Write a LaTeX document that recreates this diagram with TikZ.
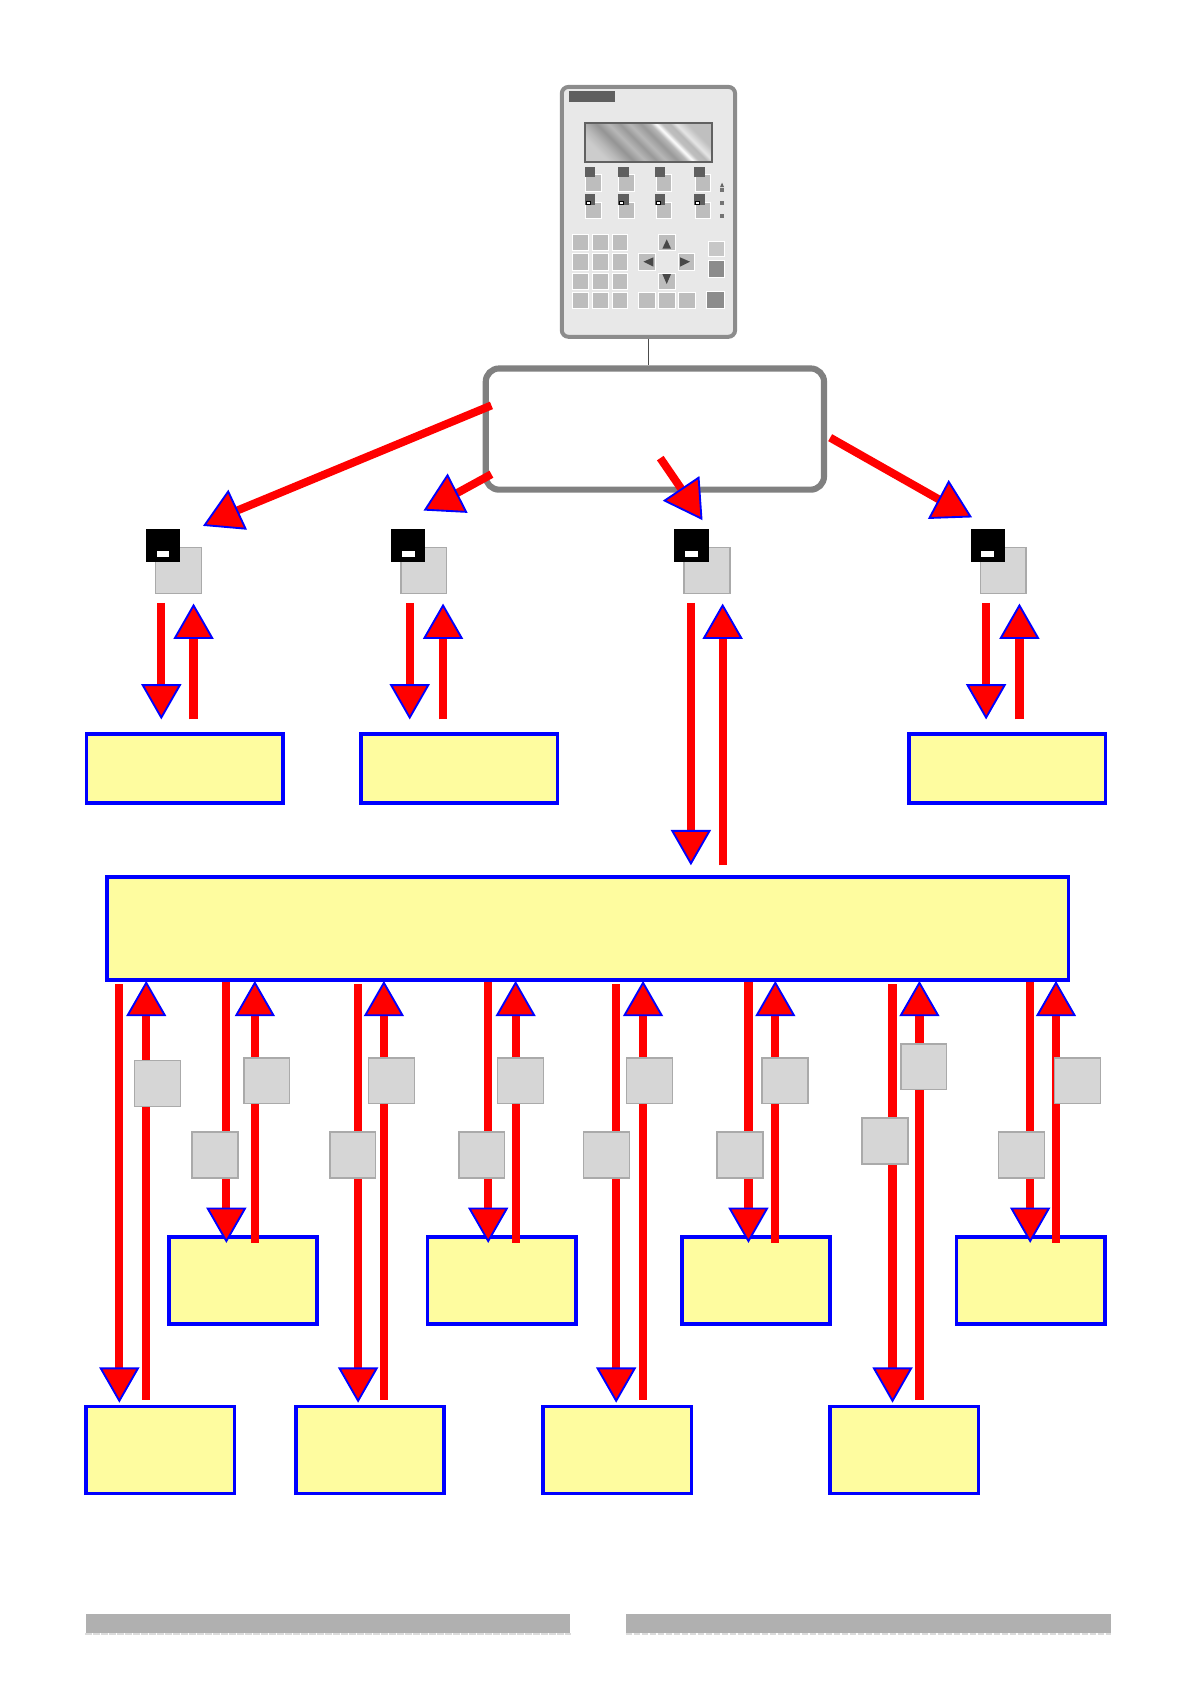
\documentclass[tikz,border=0pt]{standalone}
\usetikzlibrary{arrows.meta,shapes.geometric}
\definecolor{paleyellow}{HTML}{FEFC9F}
\definecolor{relaygray}{HTML}{D6D6D6}
\definecolor{edgegray}{HTML}{AAAAAA}
\definecolor{capgray}{HTML}{BDBDBD}
\definecolor{darkcap}{HTML}{5F5F5F}
\pgfdeclarehorizontalshading{silverglass}{100bp}{rgb(0bp)=(.8,.8,.8); rgb(25bp)=(.8,.8,.8); rgb(30bp)=(.72,.72,.72); rgb(36bp)=(.58,.58,.58); rgb(41bp)=(.72,.72,.72); rgb(46bp)=(.6,.6,.6); rgb(50bp)=(.72,.72,.72); rgb(55bp)=(.6,.6,.6); rgb(59bp)=(.72,.72,.72); rgb(61.5bp)=(1,1,1); rgb(64bp)=(.75,.75,.75); rgb(67.5bp)=(.72,.72,.72); rgb(70bp)=(.9,.9,.9); rgb(75bp)=(.75,.75,.75); rgb(100bp)=(.75,.75,.75)}
\tikzset{
  targetbox/.style={draw=blue, fill=paleyellow, line width=2.7pt, inner sep=0pt},
  relaybox/.style={draw=edgegray, fill=relaygray, line width=1.2pt, minimum size=34.4pt, inner sep=0pt},
  tagbox/.style={fill=black, minimum width=25.8pt, minimum height=24.2pt, inner sep=0pt},
  tagmark/.style={fill=white, minimum width=9.6pt, minimum height=4.8pt, inner sep=0pt},
  flowline/.style={draw=red, line width=6.2pt, -{Triangle[length=26.5pt, width=30pt, fill=red, color=blue, line width=1.4pt]}},
  skewline/.style={draw=red, line width=6pt},
  skewhead/.style={regular polygon, regular polygon sides=3, draw=blue, fill=red, line width=1.4pt, minimum size=35.5pt, inner sep=0pt},
  barbox/.style={fill=black!31, minimum width=363.5pt, minimum height=14.5pt, inner sep=0pt},
  capkey/.style={draw=white, fill=capgray, line width=.5pt}
}
\begin{document}
\begin{tikzpicture}[x=0.8065pt, y=-0.8065pt]
  \useasboundingbox (0,0) rectangle (1106.6,1566);
  % Keypad and its cable
  \node[draw=black!45, fill=black!9, line width=3pt, rounded corners=5pt, minimum width=130pt, minimum height=187.4pt, inner sep=0pt] (keypad) at (603,197) {};
  \node[draw=black!50, fill=white, line width=4.6pt, rounded corners=10pt, minimum width=253.7pt, minimum height=90.9pt, inner sep=0pt] (panel) at (609,399) {};
  \draw[black!70, line width=.9pt] (keypad.south) -- (keypad.south |- panel.north);
  % Faceplate, in the units of one third of a pixel
  \begin{scope}[shift={(502.2,65.1)}, x=0.25pt, y=-0.25pt]
    \fill[darkcap] (87,63) rectangle (225,95);
    \draw[black!62, line width=1.4pt, shading=silverglass, shading angle=45] (134,160) rectangle (515,277);
    \foreach \kx/\tx/\tw in {137/135/30, 236/234/33, 348/345/30, 465/462/33} {
      \filldraw[capkey] (\kx,314) rectangle ++(46,50);
      \fill[darkcap] (\tx,291) rectangle ++(\tw,30);
      \filldraw[capkey] (\kx,397) rectangle ++(46,48);
      \fill[darkcap] (\tx,372) rectangle ++(\tw,33);
      \filldraw[draw=black, fill=white, line width=.4pt] (\tx+5,394) rectangle ++(12,8);
    }
    \foreach \ly in {353,393,431} {
      \fill[black!55] (540,\ly) rectangle ++(12,12);
    }
    \fill[black!60] (546,338) -- (540,351) -- (552,351) -- cycle;
    \foreach \cy/\ch in {493/48, 551/49, 609/48, 666/48} {
      \foreach \cx/\cw in {96/48, 156/48, 216/46} {
        \filldraw[capkey] (\cx,\cy) rectangle ++(\cw,\ch);
      }
    }
    \foreach \cx/\cy/\cw/\ch in {356/493/51/48, 296/551/49/49, 415/551/49/49, 356/609/51/48, 296/666/49/48, 356/666/50/48, 416/666/50/48} {
      \filldraw[capkey] (\cx,\cy) rectangle ++(\cw,\ch);
    }
    \fill[black!72] (380,508) -- (367,536) -- (393,536) -- cycle;
    \fill[black!72] (310,575) -- (340,562) -- (340,590) -- cycle;
    \fill[black!72] (450,575) -- (420,562) -- (420,590) -- cycle;
    \fill[black!72] (380,642) -- (367,612) -- (393,612) -- cycle;
    \filldraw[capkey, fill=black!22] (506,513) rectangle (552,558);
    \filldraw[capkey, fill=black!45] (506,572) rectangle (553,622);
    \filldraw[capkey, fill=black!45] (500,665) rectangle (553,715);
  \end{scope}
  % Boxes
  \node[targetbox, minimum width=147.4pt, minimum height=51.6pt] (boxA) at (172,714.5) {};
  \node[targetbox, minimum width=147.4pt, minimum height=51.6pt] (boxB) at (427,714.5) {};
  \node[targetbox, minimum width=147.4pt, minimum height=51.6pt] (boxD) at (936.5,714.5) {};
  \node[targetbox, minimum width=721.1pt, minimum height=77.4pt] (mainbox) at (546.5,863.5) {};
  \foreach \nm/\x/\y in {P/226/1191, Q/466.5/1191, R/703/1191, S/958.5/1191, T/149/1348.5, U/344/1348.5, V/574/1348.5, W/841/1348.5} {
    \node[targetbox, minimum width=111.3pt, minimum height=65.2pt] (box\nm) at (\x,\y) {};
  }
  % Units below the panel
  \foreach \nm/\x in {A/166, B/394, C/657.5, D/933} {
    \node[relaybox] (dev\nm) at (\x,530.5) {};
    \node[tagbox, xshift=-11.6pt, yshift=18.8pt] (tag\nm) at (dev\nm) {};
    \node[tagmark, yshift=-6.4pt] (mark\nm) at (tag\nm) {};
  }
  % Links leaving the panel
  \foreach \nm/\fx/\fy/\hx/\hy/\rot in {A/457/377/210.3/479/-5, B/457/441/415/464/-3, C/614/426/640/464/-26, D/772/407/883/470/2} {
    \coordinate (link\nm) at (\fx,\fy);
    \coordinate (spot\nm) at (\hx,\hy);
    \draw[skewline] (link\nm) -- (spot\nm);
    \node[skewhead, rotate=\rot] (head\nm) at (spot\nm) {};
  }
  % Pairs between units and boxes
  \foreach \nm/\dn/\up/\tgt/\gap in {A/150/180/boxA/9.5pt, B/381/412/boxB/9.5pt, C/642.5/672/mainbox/7.4pt, D/917/948/boxD/9.5pt} {
    \coordinate (dn\nm) at (\dn,0);
    \coordinate (up\nm) at (\up,0);
    \draw[flowline, shorten <=6.4pt, shorten >=\gap] (dev\nm.south -| dn\nm) -- (\tgt.north -| dn\nm);
    \draw[flowline, shorten <=\gap, shorten >=7pt] (\tgt.north -| up\nm) -- (dev\nm.south -| up\nm);
  }
  % Pairs below the main box
  \foreach \nm/\dn/\up in {P/210.5/237, Q/454/479.5, R/696/721, S/958/982} {
    \coordinate (dn\nm) at (\dn,0);
    \coordinate (up\nm) at (\up,0);
    \draw[flowline, shorten >=-5.6pt] (mainbox.south -| dn\nm) -- (box\nm.north -| dn\nm);
    \draw[flowline, shorten <=-5.6pt, shorten >=-.8pt] (box\nm.north -| up\nm) -- (mainbox.south -| up\nm);
  }
  \foreach \nm/\dn/\up in {T/111/136, U/333/357, V/573/598, W/830/855} {
    \coordinate (dn\nm) at (\dn,0);
    \coordinate (up\nm) at (\up,0);
    \draw[flowline, shorten <=1.6pt, shorten >=1.6pt] (mainbox.south -| dn\nm) -- (box\nm.north -| dn\nm);
    \draw[flowline, shorten <=4pt, shorten >=-.8pt] (box\nm.north -| up\nm) -- (mainbox.south -| up\nm);
  }
  % Relays sitting on the lines
  \foreach \nm/\x/\y in {a/146.5/1007.5, b/248/1005, c/364/1005, d/484/1005, e/604/1005, f/730/1005, g/859/992, h/1002/1005, i/200/1074, j/328/1074, k/448/1074, l/564/1074, m/688/1074, n/823/1061, o/950/1074} {
    \node[relaybox] (rel\nm) at (\x,\y) {};
  }
  % Bars at the foot
  \node[barbox] (footL) at (305,1510) {};
  \node[barbox] (footR) at (807.5,1510) {};
  \foreach \nm in {footL,footR} {
    \draw[black!14, line width=1.2pt, dash pattern=on 5pt off 1pt] (\nm.south west) -- (\nm.south east);
  }
\end{tikzpicture}
\end{document}
